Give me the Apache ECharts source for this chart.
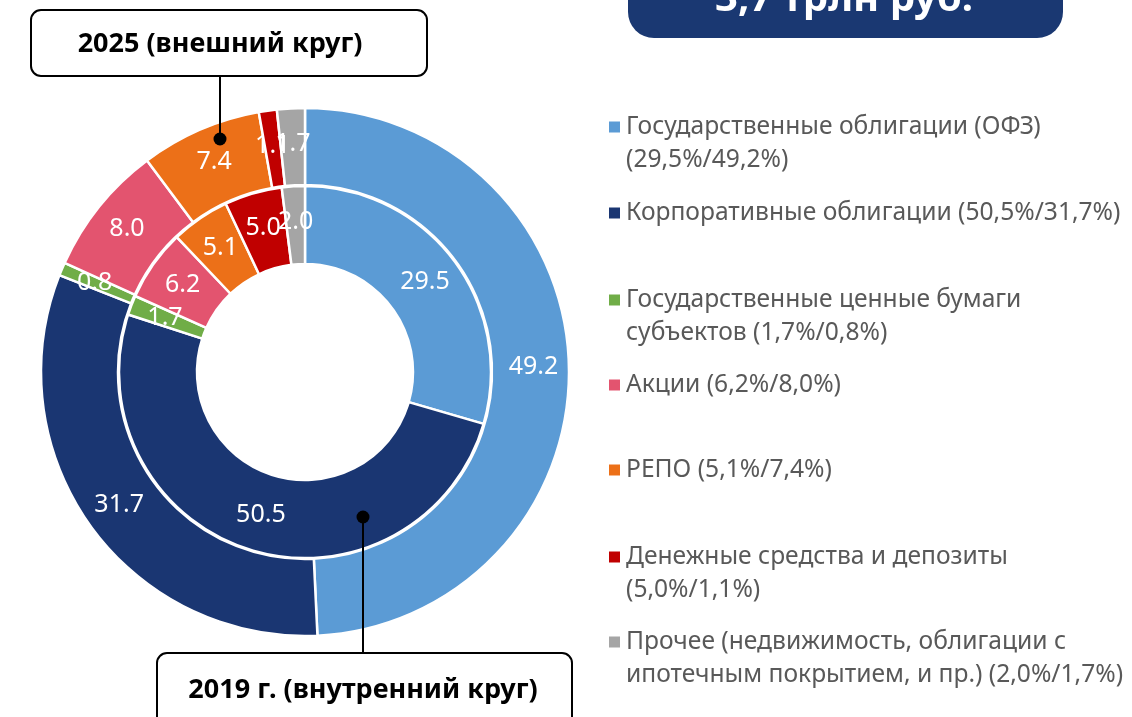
<!DOCTYPE html>
<html>
<head>
<meta charset="utf-8">
<script src="https://cdn.jsdelivr.net/npm/echarts@6/dist/echarts.min.js"></script>
<style>
  html, body { margin: 0; padding: 0; background: #fff; }
  #chart { width: 1132px; height: 717px; }
</style>
</head>
<body>
<div id="chart"></div>
<script>
// категории
const categories = [
  "Государственные облигации (ОФЗ)",
  "Корпоративные облигации",
  "Государственные ценные бумаги субъектов",
  "Акции",
  "РЕПО",
  "Денежные средства и депозиты",
  "Прочее (недвижимость, облигации с ипотечным покрытием, и пр.)"
];
// 2019 (внутренний круг)
const values2019 = [29.5, 50.5, 1.7, 6.2, 5.1, 5.0, 2.0];
// 2025 (внешний круг)
const values2025 = [49.2, 31.7, 0.8, 8.0, 7.4, 1.1, 1.7];
// подписи легенды
const legendTexts = [
  "Государственные облигации (ОФЗ)\n(29,5%/49,2%)",
  "Корпоративные облигации (50,5%/31,7%)",
  "Государственные ценные бумаги\nсубъектов (1,7%/0,8%)",
  "Акции (6,2%/8,0%)",
  "РЕПО (5,1%/7,4%)",
  "Денежные средства и депозиты\n(5,0%/1,1%)",
  "Прочее (недвижимость, облигации с\nипотечным покрытием, и пр.) (2,0%/1,7%)"
];
const colors = ["#5B9BD5", "#1A3672", "#70AD47", "#E3546F", "#EC7018", "#C00000", "#A5A5A5"];

const legendCenters = [127, 213, 300, 385, 470, 557, 642];
const LH = 33;

let chartDom = document.getElementById("chart");
let myChart = echarts.init(chartDom);

// легенда: по одному компоненту на пункт, чтобы повторить неровные отступы
const legends = categories.map((name, i) => {
  const twoLines = legendTexts[i].indexOf("\n") >= 0;
  return {
    left: 607,
    top: legendCenters[i] - (twoLines ? 1.5 * LH : 0.5 * LH),
    padding: 0,
    selectedMode: false,
    icon: "rect",
    itemWidth: 13,
    itemHeight: 13,
    data: [name],
    // пустая первая строка, чтобы маркер стоял напротив первой строки текста
    formatter: () => (twoLines ? " \n" : "") + legendTexts[i],
    textStyle: {
      color: "#595959",
      fontSize: 24.6,
      fontFamily: "Noto Sans",
      lineHeight: LH
    }
  };
});

const label = {
  show: true,
  position: "inside",
  color: "#fff",
  fontSize: 25,
  fontFamily: "Noto Sans",
  formatter: (p) => p.value.toFixed(1)
};

let options = {
  color: colors,
  animation: false,
  legend: legends,
  series: [
    {
      name: "2025",
      type: "pie",
      center: [305, 372],
      radius: [187, 264],
      startAngle: 90,
      clockwise: true,
      avoidLabelOverlap: false,
      labelLayout: { hideOverlap: false },
      labelLine: { show: false },
      itemStyle: { borderColor: "#fff", borderWidth: 2.5 },
      label: label,
      data: categories.map((n, i) => ({ name: n, value: values2025[i] }))
    },
    {
      name: "2019",
      type: "pie",
      center: [305, 372],
      radius: [108, 186],
      startAngle: 90,
      clockwise: true,
      avoidLabelOverlap: false,
      labelLayout: { hideOverlap: false },
      labelLine: { show: false },
      itemStyle: { borderColor: "#fff", borderWidth: 2.5 },
      label: label,
      data: categories.map((n, i) => ({ name: n, value: values2019[i] }))
    }
  ],
  graphic: [
    // плашка сверху справа
    {
      type: "rect",
      z: 100,
      shape: { x: 628, y: -40, width: 435, height: 78, r: 26 },
      style: { fill: "#1A3872" }
    },
    {
      type: "text",
      z: 101,
      x: 844,
      y: 0,
      style: {
        text: "3,7 трлн руб.",
        fill: "#fff",
        font: "bold 40px 'Noto Sans'",
        align: "center",
        verticalAlign: "middle"
      }
    },
    // выноска 2025
    {
      type: "line",
      z: 100,
      shape: { x1: 220, y1: 76, x2: 220, y2: 138 },
      style: { stroke: "#000", lineWidth: 2 }
    },
    {
      type: "circle",
      z: 100,
      shape: { cx: 220, cy: 139, r: 6.5 },
      style: { fill: "#000" }
    },
    {
      type: "rect",
      z: 100,
      shape: { x: 31, y: 10, width: 396, height: 66, r: 10 },
      style: { fill: "#fff", stroke: "#000", lineWidth: 2 }
    },
    {
      type: "text",
      z: 101,
      x: 220,
      y: 44,
      style: {
        text: "2025 (внешний круг)",
        fill: "#000",
        font: "bold 27px 'Noto Sans'",
        align: "center",
        verticalAlign: "middle"
      }
    },
    // выноска 2019
    {
      type: "line",
      z: 100,
      shape: { x1: 363, y1: 517, x2: 363, y2: 654 },
      style: { stroke: "#000", lineWidth: 2 }
    },
    {
      type: "circle",
      z: 100,
      shape: { cx: 363, cy: 517, r: 6.5 },
      style: { fill: "#000" }
    },
    {
      type: "rect",
      z: 100,
      shape: { x: 157, y: 653, width: 415, height: 90, r: 10 },
      style: { fill: "#fff", stroke: "#000", lineWidth: 2 }
    },
    {
      type: "text",
      z: 101,
      x: 363,
      y: 690,
      style: {
        text: "2019 г. (внутренний круг)",
        fill: "#000",
        font: "bold 27px 'Noto Sans'",
        align: "center",
        verticalAlign: "middle"
      }
    }
  ]
};
options && myChart.setOption(options);
window.onresize = myChart.resize;
</script>
</body>
</html>
